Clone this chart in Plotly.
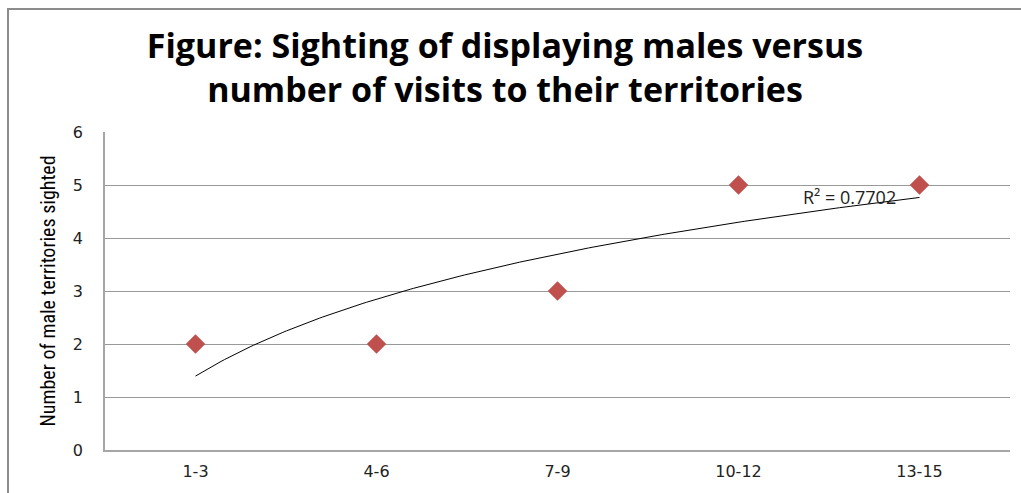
import numpy as np
import plotly.graph_objects as go

# Visit-count classes and number of displaying males sighted
visit_classes = ["1-3", "4-6", "7-9", "10-12", "13-15"]
males_sighted = [2, 2, 3, 5, 5]
y_ticks = [0, 1, 2, 3, 4, 5, 6]

# Logarithmic trendline y = a*ln(x) + b over category index 1..n
idx = np.arange(1, len(visit_classes) + 1)
a, b = np.polyfit(np.log(idx), males_sighted, 1)
fit = a * np.log(idx) + b
ss_res = np.sum((np.array(males_sighted) - fit) ** 2)
ss_tot = np.sum((np.array(males_sighted) - np.mean(males_sighted)) ** 2)
r2 = 1 - ss_res / ss_tot

x_pos = idx - 1
x_fine = np.linspace(1, len(visit_classes), 200)
y_fine = a * np.log(x_fine) + b

fig = go.Figure()
fig.add_trace(go.Scatter(
    x=x_fine - 1, y=y_fine, mode="lines",
    line=dict(color="#000000", width=1), hoverinfo="skip", showlegend=False,
))
fig.add_trace(go.Scatter(
    x=x_pos, y=males_sighted, mode="markers",
    marker=dict(symbol="diamond", size=15, color="#C0504D"),
    showlegend=False,
))

fig.add_annotation(
    x=x_pos[-1] - 0.12, y=fit[-1],
    text=f"R² = {r2:.4f}", showarrow=False, xanchor="right", yanchor="middle",
    font=dict(family="Open Sans, sans-serif", size=18, color="#222222"),
)

fig.update_layout(
    width=1021, height=493,
    margin=dict(l=105, r=11, t=132, b=43),
    paper_bgcolor="white", plot_bgcolor="white",
    title=dict(
        text="<b>Figure: Sighting of displaying males versus<br>number of visits to their territories</b>",
        x=505 / 1021, xanchor="center", y=1 - 58 / 493, yanchor="top",
        font=dict(family="Open Sans, sans-serif", size=34, color="#000000"),
    ),
    xaxis=dict(
        tickmode="array", tickvals=list(x_pos), ticktext=visit_classes,
        range=[-0.5, len(visit_classes) - 0.5],
        showgrid=False, zeroline=False,
        showline=True, linecolor="#A6A6A6", linewidth=1.5,
        ticks="", tickfont=dict(family="DejaVu Sans, sans-serif", size=16, color="#222222"),
        ticklabelstandoff=6,
    ),
    yaxis=dict(
        tickmode="array", tickvals=y_ticks, range=[0, 6],
        showgrid=True, gridcolor="#999999", gridwidth=1,
        zeroline=False, showline=True, linecolor="#A6A6A6", linewidth=1.5,
        ticks="", tickfont=dict(family="DejaVu Sans, sans-serif", size=16, color="#222222"),
        ticklabelstandoff=17,
        title=dict(text="Number of male territories sighted",
                   font=dict(family="Liberation Sans Narrow, Roboto Condensed, Liberation Sans, sans-serif", size=20, color="#000000"),
                   standoff=12),
    ),
    shapes=[dict(
        type="rect", xref="paper", yref="paper",
        x0=(8 - 105) / 905, x1=(1030 - 105) / 905,
        y0=-0.3, y1=(450 - 9) / 318,
        line=dict(color="#8C8C8C", width=2), fillcolor="rgba(0,0,0,0)", layer="below",
    )],
)

fig.write_html("out.html")
